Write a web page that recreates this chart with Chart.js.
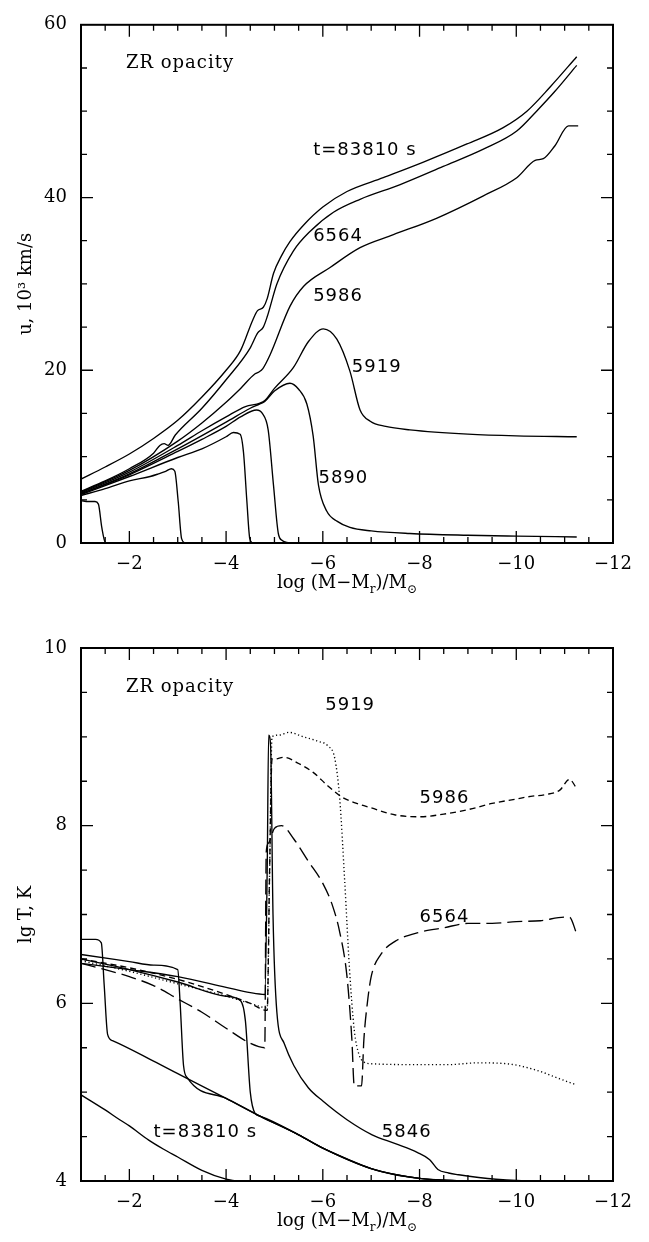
<!DOCTYPE html>
<html>
<head>
<meta charset="utf-8">
<script src="https://cdn.jsdelivr.net/npm/chart.js@4.4.1/dist/chart.umd.min.js"></script>
<style>
  html, body { margin: 0; padding: 0; background: #fff; }
  .panel { width: 649px; height: 621px; }
  canvas { display: block; }
</style>
</head>
<body>
<div class="panel"><canvas id="velocity" width="649" height="621"></canvas></div>
<div class="panel"><canvas id="temperature" width="649" height="621"></canvas></div>
<script>
// ---- axis ticks ----
const xTickLabels = [-2, -4, -6, -8, -10, -12];
const xTickMarks = [-1.5, -2, -2.5, -3, -3.5, -4, -4.5, -5, -5.5, -6, -6.5, -7, -7.5, -8, -8.5, -9, -9.5, -10, -10.5, -11, -11.5];
const uTickLabels = [0, 20, 40, 60];
const uTickMarks = [5, 10, 15, 20, 25, 30, 35, 40, 45, 50, 55];
const tTickLabels = [4, 6, 8, 10];
const tTickMarks = [4.5, 5, 5.5, 6, 6.5, 7, 7.5, 8, 8.5, 9, 9.5];

// ---- top panel: velocity u (10^3 km/s) vs log (M-Mr)/Msun ----
const u83810x = [-1, -1.5, -2, -2.5, -3, -3.5, -4, -4.3, -4.55, -4.65, -4.77, -4.85, -4.98, -5.15, -5.32, -5.6, -6.0, -6.5, -7.25, -8.08, -8.98, -9.73, -10.22, -10.7, -11.25];
const u83810y = [7.4, 8.8, 10.3, 12.1, 14.2, 16.9, 20.0, 22.3, 25.8, 26.9, 27.3, 28.3, 31.2, 33.3, 34.9, 36.8, 38.9, 40.7, 42.3, 44.1, 46.2, 48.1, 50.0, 52.8, 56.3];
const u6564x = [-1, -1.5, -2, -2.5, -2.63, -2.72, -2.8, -2.95, -3.5, -4, -4.5, -4.65, -4.77, -4.85, -5.05, -5.39, -5.74, -6.22, -6.77, -7.6, -8.49, -9.32, -10.01, -10.42, -10.8, -11.25];
const u6564y = [6.0, 7.2, 8.6, 10.4, 11.3, 11.5, 11.3, 12.5, 15.6, 18.9, 22.6, 24.3, 25.0, 26.2, 30.0, 33.8, 36.1, 38.3, 39.8, 41.5, 43.6, 45.6, 47.7, 50.0, 52.3, 55.3];
const u5986x = [-1, -2, -3, -3.5, -4, -4.3, -4.6, -4.68, -4.76, -4.91, -5.32, -5.6, -6.15, -6.77, -7.46, -8.35, -9.32, -10.01, -10.39, -10.56, -10.8, -11.08, -11.28];
const u5986y = [5.9, 8.4, 11.8, 13.9, 16.3, 17.9, 19.6, 19.8, 20.2, 21.8, 27.4, 29.7, 31.9, 34.2, 35.7, 37.6, 40.2, 42.3, 44.3, 44.5, 46.0, 48.3, 48.3];
const u5919x = [-1, -2, -3, -3.5, -4, -4.4, -4.7, -4.8, -5.0, -5.39, -5.7, -6.01, -6.29, -6.56, -6.77, -6.98, -7.3, -7.8, -9, -10, -11.25];
const u5919y = [5.8, 8.2, 11.3, 13.0, 14.6, 15.8, 16.2, 16.5, 17.9, 20.3, 23.3, 24.8, 23.6, 19.9, 15.4, 14.1, 13.5, 13.1, 12.6, 12.4, 12.3];
const u5890x = [-1, -2, -3, -4, -4.5, -4.7, -4.8, -5.0, -5.32, -5.5, -5.67, -5.8, -5.91, -6.08, -6.3, -6.56, -7, -7.8, -9, -10, -11.25];
const u5890y = [5.7, 8.0, 10.9, 14.0, 15.6, 16.1, 16.4, 17.6, 18.5, 17.8, 16.1, 12.4, 6.7, 3.7, 2.5, 1.8, 1.4, 1.1, 0.9, 0.8, 0.7];
const uEarly1x = [-1, -2, -3, -3.5, -4, -4.3, -4.63, -4.75, -4.87, -4.98, -5.08, -5.16, -5.3];
const uEarly1y = [5.7, 7.9, 10.6, 12.0, 13.5, 14.6, 15.4, 15.0, 13.1, 6.7, 1.1, 0.3, 0];
const uEarly2x = [-1, -2, -3, -3.5, -4, -4.15, -4.29, -4.36, -4.43, -4.49, -4.55];
const uEarly2y = [5.6, 7.7, 9.9, 10.9, 12.3, 12.8, 12.6, 10.5, 4.8, 0.5, 0];
const uEarly3x = [-1, -1.5, -2, -2.43, -2.6, -2.75, -2.87, -2.94, -3.01, -3.08, -3.15];
const uEarly3y = [5.5, 6.3, 7.2, 7.7, 8.0, 8.3, 8.6, 8.3, 4.8, 0.5, 0];
const uEarly4x = [-1, -1.15, -1.29, -1.36, -1.43, -1.5, -1.55];
const uEarly4y = [4.9, 4.8, 4.8, 4.5, 1.8, 0.1, 0];

// ---- bottom panel: lg T (K) vs log (M-Mr)/Msun ----
const t83810x = [-1, -1.5, -1.8, -2, -2.4, -2.7, -3.0, -3.5, -4.0, -4.2];
const t83810y = [4.97, 4.8, 4.69, 4.62, 4.46, 4.36, 4.27, 4.12, 4.02, 4.0];
const tEarly1x = [-1, -1.3, -1.42, -1.48, -1.55, -1.65, -2.5, -3.1, -4, -4.7, -5.5, -6, -6.5, -7, -7.5, -8, -8.5, -9];
const tEarly1y = [6.72, 6.72, 6.68, 6.2, 5.65, 5.58, 5.35, 5.18, 4.93, 4.73, 4.52, 4.37, 4.25, 4.14, 4.07, 4.03, 4.01, 4.0];
const tEarly2x = [-1, -2, -2.5, -3.0, -3.05, -3.12, -3.2, -4, -4.7, -5.5, -6, -7, -8, -9];
const tEarly2y = [6.55, 6.47, 6.43, 6.38, 6.0, 5.3, 5.16, 4.93, 4.73, 4.52, 4.37, 4.14, 4.03, 4.0];
const tEarly3x = [-1, -2, -3, -4, -4.3, -4.4, -4.5, -4.6, -4.7, -5.5, -6, -7, -8, -9];
const tEarly3y = [6.5, 6.38, 6.24, 6.08, 6.03, 5.8, 5.0, 4.76, 4.73, 4.52, 4.37, 4.14, 4.03, 4.0];
const t5846x = [-1, -2, -3, -4, -4.5, -4.8, -4.85, -4.88, -4.92, -4.97, -5.05, -5.2, -5.4, -5.7, -6, -6.5, -7.02, -7.5, -7.96, -8.21, -8.38, -8.6, -8.81, -9.58, -10.4, -10.8];
const t5846y = [6.45, 6.38, 6.3, 6.18, 6.12, 6.1, 7.5, 9.02, 8.9, 7.0, 5.9, 5.55, 5.3, 5.05, 4.9, 4.69, 4.52, 4.42, 4.32, 4.24, 4.13, 4.09, 4.07, 4.02, 4.0, 4.0];
const t5919x = [-1, -2, -3, -4, -4.5, -4.85, -4.9, -4.95, -5.1, -5.3, -5.6, -5.9, -6.1, -6.25, -6.35, -6.45, -6.55, -6.65, -6.75, -6.85, -7, -8, -8.6, -9.2, -9.8, -10.4, -10.9, -11.25];
const t5919y = [6.48, 6.36, 6.22, 6.08, 6.0, 5.95, 7.5, 9.0, 9.02, 9.05, 9.0, 8.95, 8.9, 8.75, 8.3, 7.4, 6.4, 5.7, 5.42, 5.34, 5.32, 5.31, 5.31, 5.33, 5.32, 5.25, 5.15, 5.08];
const t5986x = [-1, -2, -3, -4, -4.5, -4.85, -4.9, -4.95, -5.0, -5.2, -5.5, -5.8, -6.1, -6.4, -6.7, -7, -7.5, -8, -8.5, -9, -9.5, -10, -10.3, -10.6, -10.9, -11.1, -11.25];
const t5986y = [6.5, 6.4, 6.27, 6.1, 6.0, 5.92, 7.5, 8.75, 8.75, 8.77, 8.7, 8.6, 8.45, 8.32, 8.25, 8.2, 8.12, 8.1, 8.13, 8.18, 8.25, 8.3, 8.33, 8.35, 8.4, 8.52, 8.42];
const t6564x = [-1, -1.5, -2, -2.5, -3, -3.5, -4, -4.5, -4.8, -4.83, -4.87, -5.0, -5.15, -5.4, -5.7, -6.0, -6.2, -6.35, -6.5, -6.6, -6.65, -6.8, -6.85, -6.92, -7.0, -7.2, -7.5, -8, -8.5, -9, -9.5, -10, -10.5, -11, -11.1, -11.25];
const t6564y = [6.45, 6.38, 6.3, 6.2, 6.05, 5.9, 5.72, 5.55, 5.5, 7.7, 7.8, 7.97, 8.0, 7.85, 7.6, 7.35, 7.1, 6.8, 6.3, 5.6, 5.07, 5.07, 5.6, 6.0, 6.3, 6.55, 6.7, 6.8, 6.85, 6.9, 6.9, 6.92, 6.93, 6.97, 6.97, 6.78];

const SERIF = '"DejaVu Serif", serif';
const SANS = '"DejaVu Sans", sans-serif';

const topNotes = [
  { text: 'ZR opacity', x: -1.93, y: 55, font: SERIF },
  { text: 't=83810 s', x: -5.8, y: 44.9, font: SANS },
  { text: '6564', x: -5.8, y: 35.0, font: SANS },
  { text: '5986', x: -5.8, y: 28.0, font: SANS },
  { text: '5919', x: -6.6, y: 19.85, font: SANS },
  { text: '5890', x: -5.91, y: 6.9, font: SANS },
];
const bottomNotes = [
  { text: 'ZR opacity', x: -1.93, y: 9.5, font: SERIF },
  { text: '5919', x: -6.05, y: 9.3, font: SANS },
  { text: '5986', x: -8.0, y: 8.25, font: SANS },
  { text: '6564', x: -8.0, y: 6.92, font: SANS },
  { text: 't=83810 s', x: -2.5, y: 4.5, font: SANS },
  { text: '5846', x: -7.22, y: 4.5, font: SANS },
];

function series(xs, ys, dash) {
  return {
    data: xs.map((x, i) => ({ x: x, y: ys[i] })),
    borderColor: '#000',
    borderWidth: 1.35,
    borderDash: dash || [],
    pointRadius: 0,
    fill: false,
    cubicInterpolationMode: 'monotone',
  };
}

// frame, inward ticks, notes and axis titles
const decor = {
  id: 'decor',
  afterDraw(chart, args, o) {
    const { ctx, chartArea: a, scales: { x, y } } = chart;
    ctx.save();
    ctx.strokeStyle = '#000';
    ctx.fillStyle = '#000';
    ctx.lineWidth = 1.3;
    ctx.beginPath();
    o.xMarks.forEach(v => {
      const px = x.getPixelForValue(v);
      const len = o.xMajor.includes(v) ? 12 : 6;
      ctx.moveTo(px, a.bottom); ctx.lineTo(px, a.bottom - len);
      ctx.moveTo(px, a.top); ctx.lineTo(px, a.top + len);
    });
    o.yMarks.forEach(v => {
      const py = y.getPixelForValue(v);
      const len = o.yMajor.includes(v) ? 12 : 6;
      ctx.moveTo(a.left, py); ctx.lineTo(a.left + len, py);
      ctx.moveTo(a.right, py); ctx.lineTo(a.right - len, py);
    });
    ctx.stroke();
    ctx.lineWidth = 2;
    ctx.strokeRect(a.left, a.top, a.right - a.left, a.bottom - a.top);

    // notes inside the plot
    ctx.textBaseline = 'alphabetic';
    ctx.textAlign = 'left';
    o.notes.forEach(n => {
      ctx.font = '18px ' + n.font;
      ctx.letterSpacing = '1px';
      ctx.fillText(n.text, x.getPixelForValue(n.x), y.getPixelForValue(n.y));
    });
    ctx.letterSpacing = '0px';

    // x title with subscripts: log (M-Mr)/Msun
    const parts = [
      { t: 'log (M\u2212M', sub: false },
      { t: 'r', sub: true },
      { t: ')/M', sub: false },
      { t: '\u2299', sub: true },
    ];
    const fontFor = p => (p.sub ? '12px ' : '18px ') + SERIF;
    let w = 0;
    parts.forEach(p => { ctx.font = fontFor(p); w += ctx.measureText(p.t).width; });
    let cx = (a.left + a.right) / 2 - w / 2;
    const base = a.bottom + o.titleDrop;
    parts.forEach(p => {
      ctx.font = fontFor(p);
      ctx.fillText(p.t, cx, base + (p.sub ? 5 : 0));
      cx += ctx.measureText(p.t).width;
    });

    // y title
    ctx.font = '18px ' + SERIF;
    ctx.textAlign = 'center';
    ctx.textBaseline = 'middle';
    ctx.translate(26, (a.top + a.bottom) / 2);
    ctx.rotate(-Math.PI / 2);
    ctx.fillText(o.yTitle, 0, 0);
    ctx.restore();
  }
};

function makeChart(id, datasets, cfg) {
  return new Chart(document.getElementById(id), {
    type: 'line',
    data: { datasets: datasets },
    plugins: [decor],
    options: {
      responsive: false,
      animation: false,
      events: [],
      layout: { padding: 0 },
      plugins: {
        legend: { display: false },
        tooltip: { enabled: false },
        decor: cfg.decor,
      },
      scales: {
        x: {
          type: 'linear', position: 'bottom', min: -12, max: -1, reverse: true,
          grid: { display: false, drawTicks: false }, border: { display: false },
          afterBuildTicks: s => { s.ticks = xTickLabels.map(v => ({ value: v })); },
          afterFit: s => { s.height = cfg.bottomH; },
          ticks: {
            color: '#000', padding: 11, maxRotation: 0, autoSkip: false,
            font: { family: SERIF, size: 18 },
            callback: v => String(v).replace('-', '\u2212'),
          },
        },
        xTop: {
          type: 'linear', position: 'top', min: -12, max: -1, reverse: true,
          grid: { display: false, drawTicks: false }, border: { display: false },
          ticks: { display: false },
          afterFit: s => { s.height = cfg.topH; },
        },
        y: {
          type: 'linear', position: 'left', min: cfg.yMin, max: cfg.yMax,
          grid: { display: false, drawTicks: false }, border: { display: false },
          afterBuildTicks: s => { s.ticks = cfg.yLabels.map(v => ({ value: v })); },
          afterFit: s => { s.width = 81; },
          ticks: { color: '#000', padding: 14, font: { family: SERIF, size: 18 } },
        },
        yRight: {
          type: 'linear', position: 'right', min: cfg.yMin, max: cfg.yMax,
          grid: { display: false, drawTicks: false }, border: { display: false },
          ticks: { display: false },
          afterFit: s => { s.width = 36; },
        },
      },
    },
  });
}

makeChart('velocity', [
  series(u83810x, u83810y),
  series(u6564x, u6564y),
  series(u5986x, u5986y),
  series(u5919x, u5919y),
  series(u5890x, u5890y),
  series(uEarly1x, uEarly1y),
  series(uEarly2x, uEarly2y),
  series(uEarly3x, uEarly3y),
  series(uEarly4x, uEarly4y),
], {
  yMin: 0, yMax: 60, yLabels: uTickLabels, topH: 11, bottomH: 78,
  decor: {
    xMarks: xTickMarks, xMajor: xTickLabels, yMarks: uTickMarks, yMajor: uTickLabels,
    notes: topNotes, titleDrop: 45, yTitle: 'u, 10\u00b3 km/s',
  },
});

makeChart('temperature', [
  series(t83810x, t83810y),
  series(tEarly1x, tEarly1y),
  series(tEarly2x, tEarly2y),
  series(tEarly3x, tEarly3y),
  series(t5846x, t5846y),
  series(t5919x, t5919y, [1.2, 2.6]),
  series(t5986x, t5986y, [6, 4]),
  series(t6564x, t6564y, [15, 6]),
], {
  yMin: 4, yMax: 10, yLabels: tTickLabels, topH: 27, bottomH: 61,
  decor: {
    xMarks: xTickMarks, xMajor: xTickLabels, yMarks: tTickMarks, yMajor: tTickLabels,
    notes: bottomNotes, titleDrop: 45, yTitle: 'lg T, K',
  },
});
</script>
</body>
</html>
